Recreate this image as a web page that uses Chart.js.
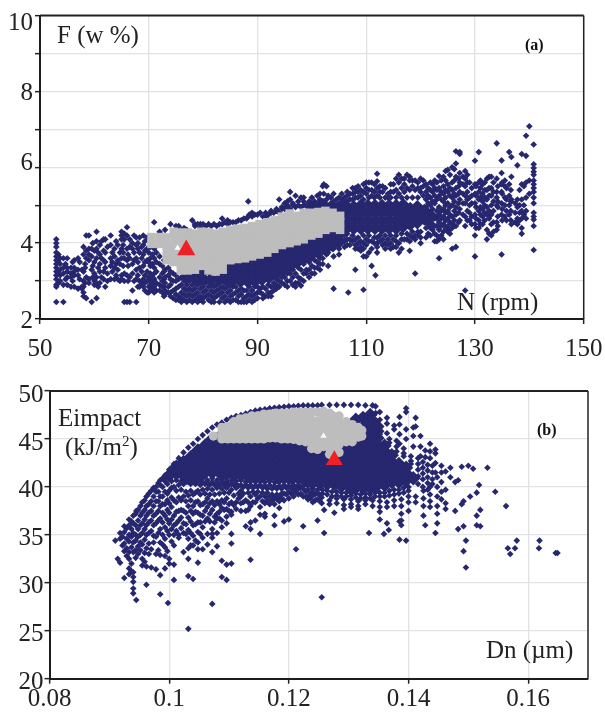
<!DOCTYPE html>
<html><head><meta charset="utf-8">
<script src="https://cdn.jsdelivr.net/npm/chart.js@4"></script>
<style>
html,body{margin:0;padding:0;background:#fff;width:605px;height:715px;overflow:hidden}
canvas{position:absolute;left:0}
.t{position:absolute;font-family:"Liberation Serif",serif;color:#222;font-size:25px;line-height:28px;white-space:nowrap}
.b{font-weight:bold;font-size:16px;line-height:16px;color:#111}
sup{font-size:15px;line-height:0}
</style></head><body>
<canvas id="a" width="605" height="372" style="top:0"></canvas>
<canvas id="b" width="605" height="340" style="top:375px"></canvas>
<div class="t" style="left:57px;top:21px">F (w %)</div>
<div class="t b" style="left:525px;top:37px">(a)</div>
<div class="t" style="left:457px;top:288px">N (rpm)</div>
<div class="t" style="left:58px;top:404px">Eimpact</div>
<div class="t" style="left:65px;top:433px">(kJ/m<sup>2</sup>)</div>
<div class="t b" style="left:537px;top:422px">(b)</div>
<div class="t" style="left:486px;top:636px">Dn (µm)</div>
<script>
// ---- Panel (a): N (rpm) vs F (w %) ----
const xTicksA=[50,70,90,110,130,150];
const yTicksA=[2,3,4,5,6,7,8,9,10];
const yLabelsA=[2,4,6,8,10];
const optimumA=[[76.9,3.82]];
const startA=[[75.3,3.87]];
const darkA=[
[53,[4.1,4.0,3.9,3.75,3.65,3.55,3.45,3.35,3.25,3.15,3.05,2.9,2.85,2.45]],[53.7,[3.6,3.45,3.3,3.15,3.0]],
[54.3,[3.6,3.35,3.2,2.9,2.45]],[55,[3.6,3.35,3.25,3.1,2.9]],[55.7,[3.35,3.2,3.1,2.85]],[56.3,[3.55,3.35,3.25,3.15,2.85]],
[57,[3.6,3.3,3.15,2.8]],[57.7,[3.3,2.85,2.8]],[58,[3.9,3.7,3.25,3.0,2.85,2.7,2.6]],[58.5,[4.2,3.8,3.6,3.1,2.55]],
[59,[4.2,3.85,3.7,3.55,3.05,2.95]],[59.5,[3.85,3.65,3.3,2.45]],[60,[3.8,3.5,3.2,3.0,2.9]],[60.4,[4.3,4.05,3.85,3.6,3.1,2.95,2.55]],
[61,[3.95,3.7,3.45,3.25,2.95]],[61.7,[4.1,3.8,3.55,3.25,3.05]],[62,[4.1,3.75,3.5,3.35,2.85]],[63,[4.2,3.95,3.6,3.4,3.05]],
[63.7,[3.85,3.65,3.35,3.05]],[64.3,[3.95,3.55,3.3,3.05]],[65,[4.3,4.2,4.1,3.85,3.6,3.15,3.05]],[65.5,[4.25,4.1,3.6,3.2,3.0,2.45]],
[66,[4.42,4.2,3.85,3.55,3.15,2.45]],[66.5,[4.1,3.9,3.6,3.1,2.45]],[67,[4.0,3.85,3.45,3.2,2.75]],[67.7,[4.15,3.95,3.6,3.3,3.05,2.45]],
[68,[4.0,3.85,3.5,3.15,2.85]],[69,[4.2,3.95,3.7,3.4,3.05,2.85]],[69.7,[4.15,3.85,3.55,3.25,3.0,2.7]],[70.3,[4.15,3.9,3.6,3.4,3.2,3.0,2.9,2.75]],
[71,[4.55,3.85,3.6,3.35,3.2,3.05,2.85,2.7]],[72.5,[4.2,3.4,3.2,3.0,2.85,2.7]],[73,[4.35,3.3,3.1,2.95,2.75,2.65]],[74,[4.5,3.25,3.05,2.9,2.7,2.6]],
[75,[4.45,3.15,3.0,2.8,2.65,2.5]],[76,[4.35,3.1,2.9,2.7,2.55,2.45]],[77,[4.35,3.1,2.9,2.75,2.6,2.45]],[78,[4.6,3.05,2.9,2.75,2.6,2.45]],
[79,[4.5,3.05,2.9,2.7,2.55,2.45]],[80,[4.5,3.0,2.85,2.7,2.55,2.45]],[81,[4.5,3.0,2.85,2.65,2.5]],[82,[4.5,3.0,2.85,2.7,2.55,2.45]],
[83,[4.5,3.0,2.8,2.65,2.45]],[83.5,[4.65]],[84,[4.55,2.95,2.8,2.6,2.45]],[85,[4.55,2.9,2.75,2.6,2.45]],[86,[4.55,2.85,2.7,2.5]],
[87,[4.6,2.8,2.65,2.45]],[88,[4.65,2.75,2.6,2.45]],[88.3,[5.1,4.7]],[89,[4.8,4.7,2.75,2.6,2.45]],[90,[4.75,2.85,2.7,2.55]],
[91,[4.7,2.85,2.65,2.55]],[92,[4.75,2.9,2.7,2.6]],[93,[4.8,2.95,2.85,2.75]],[94,[5.15,4.8,3.0,2.85]],[95,[5.05,4.9,3.1,2.9]],
[96,[5.35,5.15,4.9,3.2,3.0]],[97,[5.25,4.95,3.2,2.95,2.85]],[98,[5.2,4.95,3.3,3.05,2.88]],[99,[5.0,3.3,3.2]],[100,[5.2,5.0,3.4,3.2]],
[101,[5.25,5.05,3.5,3.35]],[102,[5.5,5.1,3.6,3.45]],[102.7,[5.5,5.15,3.7]],[103,[5.25,3.75,3.4]],[104,[5.3,5.1,3.85,3.65,2.8]],
[105,[5.2,5.05,4.0,3.85,3.7]],[106,[5.2,5.1,4.2,4.05,3.9]],[106.7,[2.7]],[107,[5.3,5.15,4.1,3.95]],[108,[5.45,5.35,5.2,4.1,3.95,3.85,3.3]],
[109,[5.4,5.25,4.05,3.9,3.8]],[109.5,[3.65,2.77]],[110,[5.6,5.45,5.3,4.1,3.95,3.65]],[111,[5.6,5.4,5.25,4.05,3.85,3.4]],[111.7,[3.15]],
[112,[5.83,5.63,5.45,5.25,4.15,4.0,3.9,3.75]],[113,[5.5,5.35,4.1,3.95]],[114,[5.3,5.2,4.1,3.95]],[115,[5.55,5.35,4.1,3.9]],
[116,[5.8,5.6,5.3,4.0,3.75]],[117,[5.7,5.55,5.35,4.1]],[118,[5.75,5.65,5.4,4.2,4.05,3.8]],[119,[5.65,5.4,4.2,4.1,3.2]],
[120,[5.7,5.45,5.35,4.3,4.15,4.0]],[121,[5.55,5.35,5.15,4.95,4.75,4.55,4.4,4.15]],[121.8,[5.6,5.4,5.2,5.0,4.8,4.6,4.4,4.2]],
[122.6,[5.65,5.45,5.25,5.05,4.65,4.45,4.25,4.05]],[123.4,[5.77,5.45,5.25,4.95,4.75,4.55,4.35,4.1,3.6]],[124.2,[5.75,5.5,5.3,5.1,4.9,4.7,4.5,4.3,4.1]],
[125,[5.93,5.55,5.35,5.05,4.85,4.65,4.45,4.3]],[125.8,[6.0,5.6,5.4,5.2,5.0,4.7,4.5,4.4,3.85]],[126.5,[6.42,6.1,5.75,5.45,5.25,4.95,4.75,4.45,3.9]],
[127.2,[6.4,6.35,5.85,5.6,5.35,5.15,4.9,4.6]],[128.2,[5.9,5.7,5.5,5.25,5.05,4.7,4.45,2.75]],[129,[5.6,5.2,5.0,4.8,4.6]],
[130,[6.17,5.55,5.3,5.05,4.75,4.5,4.2,3.65]],[130.7,[6.4,5.6,5.35,5.15,4.85,4.6,4.4]],[131.4,[5.55,5.3,5.1,4.9,4.7,4.5]],
[132.2,[5.7,5.4,5.15,4.95,4.75,4.35,4.1]],[133,[5.75,5.45,5.25,5.0,4.75,4.5,4.2]],[134,[6.63,5.7,5.35,5.2,5,4.55,4.35]],
[134.9,[6.18,5.85,5.55,5.35,5.05,4.75,3.7]],[135.5,[5.65,5.5,5.2,5.0,4.7]],[136.3,[6.4,5.55,5.25,5.0,4.75]],[136.7,[6.27,5.75,5.15,4.5]],
[137.8,[6.05,5.15,4.95,4.65,4.5]],[138.6,[6.35,5.55,5.15,4.85,4.65,4.25,4.4]],[139.4,[6.83,6.3,5.6,5.2,4.85,4.65]],[140,[7.08,5.65,5.3]],
[140.8,[6.6,6.08,5.98,5.88,5.8,5.65,5.55,5.45,5.35,5.2,5.05,4.8,4.7,4.62,4.45,3.82]]
];
const darkExtraA=[
[53.4,[3.7,3.5,3.2,2.95]],[54.7,[3.45,3.05]],[56,[3.5,3.0]],[57.3,[3.5,3.05]],[58.3,[3.45,3.35,2.95]],[59.7,[4.0,3.4,3.1]],[60.7,[3.75,3.35,2.85]],
[61.3,[4.05,3.6,3.1]],[62.4,[3.9,3.2,3.0]],[63.3,[3.75,3.5,3.25]],[64,[4.05,3.45,3.15]],[64.7,[3.75,3.45,3.0]],[65.3,[3.95,3.75,3.4]],[66.2,[3.7,3.4,3.0]],
[67.3,[4.2,3.75,3.55,3.0]],[68.3,[4.15,3.75,3.35,3.0,2.85]],[68.7,[3.9,3.6,3.25,2.95]],[69.3,[4.05,3.8,3.5,3.15,2.95,2.75]],[70,[3.75,3.5,3.1,2.85,2.7]],
[70.7,[3.7,3.45,3.1,2.95,2.8]],[71.4,[3.75,3.5,3.25,2.95,2.75]],[72,[4.3,3.65,3.45,3.1,2.9,2.75]],[72.8,[3.55,3.25,3.05,2.85,2.6]],[73.6,[3.35,3.15,2.85,2.7]],
[74.5,[3.2,3.0,2.75,2.55]],[75.5,[4.45,3.05,2.85,2.6,2.5]],[76.5,[4.4,3.0,2.8,2.65,2.5]],[77.5,[3.0,2.8,2.65,2.5]],[78.5,[4.5,4.45,2.95,2.8,2.65,2.5]],
[79.5,[4.5,4.4,2.95,2.8,2.6,2.5]],[80.5,[4.45,2.95,2.75,2.6]],[81.5,[4.45,2.9,2.75,2.6,2.45]],[82.5,[4.45,2.9,2.75,2.6]],[83.5,[4.5,2.85,2.7,2.55]],
[84.5,[4.6,4.5,2.85,2.7,2.5]],[85.5,[4.55,2.85,2.65,2.5]],[86.5,[4.6,2.75,2.6,2.45]],[87.5,[4.65,2.75,2.55,2.45]],[88.5,[4.75,2.85,2.65,2.5]],[89.5,[4.75,2.85,2.65,2.5]],
[90.5,[4.8,2.8,2.7]],[91.5,[4.8,4.7,2.8,2.6]],[92.5,[4.85,4.8,2.85,2.7,2.6]],[93.5,[4.9,4.85,3.05,2.9,2.8]],[94.5,[4.95,4.9,3.1,2.95]],[95.5,[5.1,5.0,4.95,3.2,3.0,2.85]],
[96.5,[5.05,5.0,3.3,3.1,2.9]],[97.5,[5.1,5.0,3.35,3.1,2.95]],[98.5,[5.2,5.1,5.0,3.45,3.2,3.0]],[99.5,[5.1,5.05,3.5,3.3,3.1]],[100.5,[5.1,5.05,3.55,3.35,3.2]],
[101.5,[5.3,5.15,5.05,3.6,3.45,3.3]],[102.2,[5.55,5.3,5.1]],[103.5,[5.2,5.05]],[104.5,[5.15,5.0]],
[105.5,[5.3,5.15,5.05]],[106.5,[5.35,5.25,5.1,4.25,4.1,3.95]],[107.5,[5.45,5.3,5.15,4.2,4.05]],[108.5,[5.5,5.35,5.2,4.15,4.0,3.85]],[109.5,[5.55,5.35,5.15,4.2,4.0,3.85]],
[110.5,[5.6,5.4,5.2,4.2,4.05,3.75]],[111.5,[5.55,5.35,5.2,4.15,4.0]],[112.5,[5.5,5.35,5.2,4.2,4.05]],[113.5,[5.45,5.2,4.2,4.0,3.85]],[114.5,[5.55,5.35,5.2,4.2,4.0,3.85]],
[115.5,[5.7,5.4,5.2,4.2,4.05,3.9]],[116.5,[5.7,5.45,5.2,4.25,4.1,3.85]],[117.5,[5.8,5.45,5.2,4.25,4.1]],[118.5,[5.65,5.5,5.2,4.3,4.15]],[119.5,[5.6,5.45,5.2,4.3,4.2]],[120.5,[5.65,5.5,5.25]],
[121.4,[5.45,5.25,5.05,4.85,4.65,4.5,4.25]],[122.2,[5.55,5.35,5.1,4.9,4.7,4.5,4.35]],[123,[5.6,5.4,5.15,4.85,4.65,4.45,4.2,4.05]],[123.8,[5.65,5.35,5.15,4.85,4.65,4.45,4.2]],
[124.6,[5.9,5.65,5.4,5.2,5,4.8,4.6,4.4]],[125.4,[5.8,5.45,5.25,4.95,4.75,4.55,4.35,4.25]],[126.2,[5.95,5.65,5.3,5.1,4.85,4.6,4.45]],[127,[5.7,5.5,5.3,5.05,4.8,4.55]],
[127.8,[5.75,5.55,5.3,5.05,4.75]],[128.6,[5.8,5.6,5.35,5.15,4.85,4.6]],[129.4,[5.45,5.25,5.05,4.7,4.5]],[130.2,[5.5,5.25,4.95,4.65,4.4]],[131,[5.65,5.45,5.2,4.95,4.75,4.5]],
[131.8,[5.6,5.4,5.2,5,4.8,4.6]],[132.6,[5.75,5.45,5.25,4.85,4.65,4.25]],[133.4,[5.6,5.35,5.1,4.85,4.55,4.3]],[134.2,[5.5,5.1,4.95,4.7,4.45]],[135,[5.6,5.3,4.9,4.6]],
[135.8,[5.45,5.15,4.85,4.6]],[136.6,[5.4,5.1,4.85,4.6]],[137.4,[5.05,4.8,4.55]],[138.2,[5.4,5.0,4.8,4.6]],[139,[5.5,5,4.75]]
];
const darkMassA=[
[77,[3.1,3.3]],[78.5,[3.1,3.3]],[80,[3.05,3.25]],[81.5,[3.05,3.25]],[83,[3.05,3.25]],[84.3,[3.05,3.25,3.45]],[85.6,[3.05,3.25,3.45]],
[86.9,[3.0,3.2,3.4,3.6]],[88.2,[3.0,3.2,3.4,3.6]],[89.5,[3.0,3.2,3.4,3.6]],[90.8,[3.05,3.25,3.45,3.65]],[92.1,[3.1,3.3,3.5,3.7]],
[93.4,[3.2,3.4,3.6,3.8]],[94.7,[3.3,3.5,3.7,3.9]],[96,[3.4,3.6,3.8,4.0]],[97.3,[3.5,3.7,3.9,4.1]],[98.6,[3.6,3.8,4.0,4.2]],
[99.9,[3.7,3.9,4.1,4.3,4.95]],[101.2,[3.75,3.95,4.15,4.35,4.95]],[102.5,[3.85,4.05,4.25,4.45,4.95]],[103.8,[3.95,4.15,4.35,4.55,4.95]],
[105.1,[4.05,4.25,4.45,4.65,4.85]],[106.4,[4.4,4.6,4.8,4.95]],[107.7,[4.4,4.6,4.8,4.95]],[109,[4.4,4.6,4.8,4.98]],
[110.3,[4.4,4.6,4.8,4.98]],[111.6,[4.4,4.6,4.8,4.98]],[112.9,[4.4,4.6,4.8,4.98]],[114.2,[4.4,4.6,4.8,4.98]],
[115.5,[4.4,4.6,4.8,4.98]],[116.8,[4.45,4.65,4.85,5.0]],[118.1,[4.5,4.7,4.9]],[119.4,[4.55,4.75,4.95]],
[120.7,[4.65,4.85]],[122,[4.7]]
];
const greyA=[
[70.5,[3.98,4.16]],[72,[3.98,4.16]],[73.3,[3.55,3.75,3.95,4.15]],[74.6,[3.5,3.7,3.9,4.1,4.3]],[75.9,[3.28,3.48,3.68,3.88,4.08,4.28]],
[77.2,[3.28,3.48,3.68,3.88,4.08,4.28]],[78.5,[3.3,3.5,3.7,3.9,4.1,4.25]],[79.8,[3.4,3.6,3.8,4.0,4.2,4.3]],[81,[3.28,3.48,3.68,3.88,4.08,4.28]],
[82.3,[3.25,3.45,3.65,3.85,4.05,4.25]],[83.6,[3.3,3.5,3.7,3.9,4.1,4.3]],[85,[3.55,3.75,3.95,4.15,4.35]],[86.3,[3.58,3.78,3.98,4.18,4.38]],
[87.7,[3.6,3.8,4.0,4.2,4.4]],[89,[3.65,3.85,4.05,4.25,4.45]],[90.4,[3.7,3.9,4.1,4.3,4.5]],[91.8,[3.75,3.95,4.15,4.35,4.55]],
[93.1,[3.85,4.05,4.25,4.45,4.6]],[94.5,[3.95,4.15,4.35,4.55,4.7]],[95.9,[4.0,4.2,4.4,4.6,4.78]],[97.2,[4.05,4.25,4.45,4.65,4.72]],
[98.5,[4.1,4.3,4.5,4.65,4.8]],[99.9,[4.2,4.4,4.6,4.8]],[101.2,[4.25,4.45,4.65,4.82]],[102.5,[4.35,4.55,4.7,4.85]],[103.8,[4.4,4.6,4.8]],
[105.2,[4.35,4.55,4.72]]
];

// ---- Panel (b): Dn (µm) vs Eimpact (kJ/m2) ----
const xTicksB=[0.08,0.1,0.12,0.14,0.16];
const yTicksB=[20,25,30,35,40,45,50];
const optimumB=[[0.1276,42.8]];
const startB=[[0.1258,45.3]];
const darkB=[
[.091,[34.4]],[.0914,[32.5]],[.0918,[35.2,34.6,32.1]],[.0925,[35.9,35.3,34.1,33.3,30.5]],[.0933,[36.6,36,35,34.3,33.2,32.5,31.5,30.9]],
[.094,[37,36.2,35.2,34.2,33.2,31.1,30.6,30.1,29.4,28.9]],[.0945,[37.5,28.2]],[.0948,[37.6,36.5,35.6,34.8,33.8,33]],[.0955,[38.4,37.3,36.2,35.2,34,32.5,31.8]],
[.0962,[39,38,37,36,35,33.6,31.7,29.8]],[.097,[39.6,38.5,37.5,36.5,35.4,33.5,31.6]],[.0978,[40,39.5,38.5,37.2,36.2,34.8,33,31.4]],
[.0985,[40.7,40.2,39,38,36.7,35.6,34.2,32.9,30.8,28.8]],[.0993,[41.2,40.6,39.5,38.2,37,35.8,34.6,33.7,32.8,31.5]],[.0998,[27.9]],
[.1,[41.8,41,39.6,38.3,37.3,36.2,35,32.5,32]],[.1008,[42.4,41.6,40,38.6,37,36,35,33.9,31.9,30.3]],[.1016,[43,41.7,40.2,38.9,37.5,36.5,35,34.7]],
[.1024,[43.6,40.3,39,37.5,36.2,35.2,33.2]],[.1032,[44.1,40.5,39.1,38,36.8,35.5,34.6,33.6,32.5,30.7,25.2]],[.104,[44.5,40.5,39.2,38,37.2,36,34.9,33.9,30.4]],
[.1048,[45,39.6,38.5,37.3,36.3,35.3,34.2,33.5,32.1]],[.1056,[45.4,39.7,38.2,37,35.8,34.7,33.5]],[.1064,[45.8,39.8,38.8,37.9,36.7,35.1,34]],
[.1072,[46.2,39.7,38.5,37.6,35.6,35.1,34.7,33.2,27.8]],[.108,[46.5,39.9,38.5,37.2,36.7,35.2,33.8]],[.1088,[46.7,39.8,38.6,37.8,36.5,35.8,32.3,30.6]],
[.1096,[47,39.9,38.8,37.7,36.9,36.2,31.9,30.3]],[.1104,[47.2,39.7,38.4,37.4,37.1,35.1,34.1,32]],[.1112,[47.4,39.9,38.4,37.7]],
[.112,[47.5,39.6,39,38.3,37.5]],[.1128,[47.65,38.6,37.5,35.9]],[.1136,[47.8,39,38,36.3,35.6,32.4]],[.1144,[47.95,39.2,38.4,36.5]],
[.1152,[48.05,39,37.9,37.1,35.1]],[.116,[48.1,39,38.3,37.2,36.9]],[.1168,[48.2,39,38.2]],[.1176,[48.25,38.9,38.2,37,36]],[.1184,[48.3,39,38.5,37.8]],
[.1192,[48.35,39.3,38.6,36.4]],[.12,[48.4,39.5,38.8,36.6]],[.1208,[48.4,39.7,39]],[.1212,[33.5]],[.1216,[48.45,39.8,39.2]],[.1224,[48.5,39.8,39,35.9]],
[.1232,[48.5,39,38.7]],[.124,[48.5,39.1,38.4]],[.1248,[48.5,38.7,36.5]],[.1255,[48.55,38.9,38.3,28.5]],[.1259,[37.6,35.2]],[.1268,[48.55,38.6,38.2]],[.1276,[37.3]],
[.128,[48.55,38.8,38.3]],[.1292,[48.55,38.7,38.1,37.7]],[.1304,[48.55,38.7,38.2,37.9]],[.1316,[48.55,38.5,38,37.7]],[.1328,[48.5,38.6,38.2]],[.1334,[35.2]],
[.134,[48.5,38.6,38]],[.1345,[48.4,47.7,47]],[.1352,[47.8,47,46.2,45.5,38.5,37.9,37.4,36.6]],[.1359,[35.1]],[.1364,[47.2,46.6,45.6,38.4,37.9,36.2]],[.1367,[35.5]],
[.1376,[46.4,46,38.6,38]],[.1385,[47.3,46.5,45.5,44.5,36.4,34.5]],[.1388,[38.7,38,37.2,36.5,36]],[.1396,[48.2,47.8,46,45,34.4]],[.14,[39,38.4,37.5]],
[.1408,[46.2,45.3,44.2]],[.1412,[47.2,46.3,39,38.4]],[.142,[45.3,44.2,43.2]],[.1425,[39.6,38.8,38,37]],[.1428,[43.8,43.1,36]],[.1436,[44.5,43.7,43,40,39.2,38.5,37.9]],
[.1445,[43.9,43.5,42.5,41.5,35.2]],[.1448,[41,40,39,38,37.2,36.2]],[.1455,[42.2,41.5,40.5,39.5,38.7]],[.1462,[41.6,39.7,38.3,37.7]],[.147,[42,41]],
[.1478,[40.5,37.5]],[.1483,[40.7,35.6]],[.1489,[42.1,38.2]],[.1492,[38.5,35.9,33.3]],[.1496,[34.4,31.6]],[.15,[42.2]],[.1503,[39]],[.1508,[41.9]],[.1514,[39.4,37,36]],
[.1518,[40.2]],[.152,[37.6,35.9]],[.1532,[42]],[.1545,[39.5]],[.1563,[38]],[.1566,[33.6]],[.157,[33]],[.1578,[33.6]],[.1581,[34.4]],[.1618,[33.6]],[.1619,[34.4]],[.1646,[33.1]],[.1649,[33.1]]
];
const darkExtraB=[
[.0922,[34.8,33.9]],[.0929,[35.7,34.6,33.6,32.8]],[.0937,[36.4,35.6,34.8,33.7,32,31.2]],[.0944,[37.2,36,35,34.4,33.4,32.6]],[.0952,[38,37,36,35,34.2,33.4]],
[.0959,[38.6,37.6,36.6,35.6,34.5,33.1,32.2]],[.0966,[39.3,38.2,37.3,36.3,35.2,34.1,33]],[.0974,[39.9,39,38,37,36,34.9,34.2]],[.0982,[40.4,39.5,38.5,37.5,36.5,35.2,33.4]],
[.0989,[40.9,40,39,38.2,37.3,36.3,35,34]],[.0997,[41.3,40.3,39.3,38.6,37.6,36.6,35.4,33.3]],[.1004,[41.8,40.6,39.9,38.9,37.9,36.6,35.6,34.3]],[.1012,[40.7,39.6,38.4,37.4,36.2,35.4]],
[.102,[40.6,39.7,38.6,37.6,36.8,35.7]],[.1028,[40.5,39.5,38.5,37.3,36.1,35.1]],[.1036,[40.3,39.6,38.6,37.5,36.4,35.2,33.9]],[.1044,[40.3,39.4,38.4,37.4,36.1,34.4]],
[.1052,[40.2,39.2,38.1,37.1,36.3,35.1]],[.106,[40.3,39.3,38.4,37.5,36.4]],[.1068,[40.2,39.2,38.3,37.2,36.4]],[.1076,[40.2,39.2,38.1,36.9,36.3]],[.1084,[40.2,39.3,38.2,37.4,36.7]],
[.1092,[40.2,39.4,38.4,37.6]],[.11,[40.2,39.4,38.2,37.5]],[.1108,[40.2,39.1,38.1]],[.1116,[40.1,39.3,38.8]],[.1124,[40,39.3,38.4]],[.1132,[39.9,39.4,38.4,37.6]],[.114,[39.9,39.5,38.4]],
[.1148,[40,39.5,38.8]],[.1156,[39.9,39.4,38.5]],[.1164,[39.8,39.4,38.6]],[.1172,[39.8,39.2,38.6]],[.118,[39.8,39.2,38.7]],[.1188,[39.8,39.3,38.8]],[.1196,[39.9,39.2]],[.1204,[39.9,39.3]],
[.1212,[39.9,39.4]],[.122,[39.9,39.3]],[.1228,[39.5,39]],[.1236,[39.3,38.8]],[.1244,[39.2,38.6]],[.1252,[39.1,38.5]],
[.1368,[45,44.6]],[.138,[44.8,44.2,43.7]],[.1392,[44,43.5,43.2]],[.1404,[43.2,42.7,42.4]],[.1416,[43,42.4,41.8,41.1,40.3]],[.1424,[42.6,42,41.4,40.8,40]],[.1432,[42.3,41.7,41,40.4,39.7]],[.144,[42.2,41.5,40.8,40.3]]
];
const darkLowerEdgeB=[
[.1056,[40.9,40.5]],[.1064,[40.7,40.4]],[.1072,[40.9,40.5]],[.108,[40.7,40.4]],[.1088,[40.8,40.5]],[.1096,[40.6,40.4]],[.1104,[40.7,40.3]],[.1112,[40.6,40.3]],
[.112,[40.7,40.2]],[.1128,[40.5,40.2]],[.1136,[40.6,40.2]],[.1144,[40.5,40.1]],[.1152,[40.6,40.2]],[.116,[40.5,40.1]],[.1168,[40.6,40.2]],[.1176,[40.5,40.1]],
[.1184,[40.5,40.1]],[.1192,[40.6,40.2]],[.12,[40.5,40.1]],[.1208,[40.6,40.2]],[.1216,[40.5,40.2]],[.1224,[40.4,40.1]],[.1232,[40.1,39.7]],[.124,[39.8,39.5]],
[.1248,[39.7,39.4]],[.1256,[39.7,39.3]],[.1264,[39.6,39.2]],[.1272,[39.5,39]],[.128,[39.5,39.1]],[.1288,[39.4,39]],[.1296,[39.4,39]],[.1304,[39.4,39.1]],[.1312,[39.3,38.9]],[.132,[39.2,38.8]],
[.1328,[39.3,38.9]],[.1336,[39.2,38.8]],[.1344,[39.4,39]],[.1352,[39.4,39]],[.136,[39.4,39]],[.1368,[39.6,39.1]],[.1376,[39.7,39.2]],[.1384,[39.7,39.3]],[.1392,[39.9,39.4]],[.14,[40,39.6]]
];
const darkMassB=[
[.1,[41.2]],[.1012,[41.4,42.1]],[.1024,[41.2,41.9,42.6]],[.1036,[41,41.7,42.4,43.1]],[.1048,[41,41.7,42.4,43.1,43.8]],[.106,[41.5,42.2,42.9,43.6,44.3]],
[.1072,[41.5,42.2,42.9,43.6,44.3,45]],[.1084,[41.5,42.2,42.9,43.6,44.3,45.2]],[.1096,[41.3,42,42.7,43.4,44.1,44.8]],[.1108,[41.3,42,42.7,43.4,44.1,44.8]],
[.112,[41.2,41.9,42.6,43.3,44,44.7]],[.1132,[41.1,41.8,42.5,43.2,43.9,44.6]],[.1144,[41.1,41.8,42.5,43.2,43.9,44.6]],[.1156,[41.1,41.8,42.5,43.2,43.9,44.6]],
[.1168,[41.1,41.8,42.5,43.2,43.9,44.6]],[.118,[41,41.7,42.4,43.1,43.8,44.5]],[.1192,[41,41.7,42.4,43.1,43.8,44.5]],[.1204,[41,41.7,42.4,43.1,43.8,44.5]],
[.1216,[41,41.7,42.4,43.1,43.8,44.5]],[.1228,[40.7,41.4,42.1,42.8,43.5,44.2]],[.124,[40.4,41.1,41.8,42.5,43.2,43.9]],[.1252,[40.4,41.1,41.8,42.5,43.2,43.9]],
[.1264,[40.3,41,41.7,42.4,43.1,43.8]],[.1276,[40.3,41,41.7,42.4,43.1,43.8]],[.1288,[40.1,40.8,41.5,42.2,42.9,43.6,44.3]],[.13,[40.1,40.8,41.5,42.2,42.9,43.6,44.3]],
[.1312,[39.9,40.6,41.3,42,42.7,43.4,44.1,44.8,47]],[.1324,[39.9,40.6,41.3,42,42.7,43.4,44.1,44.8,45.5,46.2,47.2]],[.1336,[39.9,40.6,41.3,42,42.7,43.4,44.1,44.8,45.5,46.2,46.9,47.5]],
[.1348,[40.2,40.9,41.6,42.3,43,43.7,44.4,45.1,45.8,46.3]],[.136,[40.2,40.9,41.6,42.3,43,43.7,44.3]],[.1372,[40.5,41.2,41.9,42.6,43.3]],[.1384,[40.5,41.2,41.9,42.4]],
[.1396,[40.7,41.4,42]],[.1408,[40.9]]
];
const greyB=[
[.1074,[45.3]],[.1088,[45,45.6,46.2]],[.1098,[45,45.6,46.3]],[.1108,[45,45.6,46.2,46.8]],[.1118,[45,45.6,46.2,46.8,47.1]],[.1128,[45,45.6,46.2,46.8,47.2]],
[.1138,[45,45.6,46.2,46.8,47.4]],[.1148,[45,45.6,46.2,46.8,47.4]],[.1158,[45,45.6,46.2,46.8,47.4,47.6]],[.1168,[45.1,45.7,46.3,46.9,47.4,47.6]],[.1178,[45.1,45.7,46.3,46.9,47.4,47.7]],
[.1188,[45,45.6,46.2,46.8,47.3,47.7]],[.1198,[45,45.6,46.2,46.8,47.3,47.7]],[.1208,[44.95,45.6,46.2,46.8,47.4,47.8]],[.1218,[44.8,45.4,46,46.6,47.2,47.8]],[.1228,[44.7,45.3,45.9,46.5,47.1,47.8]],
[.1238,[44,44.6,45.2,45.8,46.4,47,47.8]],[.1248,[43.9,44.5,45.1,45.7,46.3,46.9,47.8]],[.1258,[44.2,44.8,45.4,46,46.6,47.2,47.9]],[.1268,[43.4,44,44.6,45.2,45.8,46.4,47,47.7]],
[.1274,[43.1,43.8,44.4,45,45.6,46.2,46.8,47.4]],[.1284,[43.6,44.4,45,45.6,46.2,46.8,47.4]],[.1296,[44.7,45.3,45.9,46.5,46.8]],[.1306,[44.7,45.3,45.9,46.5]],[.1316,[45.2,45.8,46.2]],[.1322,[45.3,45.9]]
];

const darkColour='#26276f', greyColour='#bdbdbd', redColour='#ee2126';
const toPoints=cols=>cols.flatMap(([x,ys])=>ys.map(y=>({x,y})));
const toPairs=rows=>rows.map(([x,y])=>({x,y}));
const serif='"Liberation Serif", serif';

const frame={id:'frame',afterDatasetsDraw(c){
  const {left,right,top,bottom}=c.chartArea,g=c.ctx;
  g.save();g.strokeStyle='#222';
  g.lineWidth=2;g.beginPath();g.moveTo(left,top);g.lineTo(right,top);g.stroke();
  g.lineWidth=1.5;g.beginPath();g.moveTo(right,top);g.lineTo(right,bottom);g.stroke();
  g.restore();
}};

function panel(id,cfg){
  const ds=(data,style,r,colour,order)=>({data,pointStyle:style,pointRadius:r,pointHoverRadius:r,pointBackgroundColor:colour,pointBorderWidth:0,order,showLine:false,clip:false});
  new Chart(document.getElementById(id),{type:'scatter',plugins:[frame],
    data:{datasets:[
      ds(toPairs(cfg.optimum),'triangle',cfg.redR,redColour,0),
      ds(toPairs(cfg.start),'triangle',3.6,'#ffffff',1),
      ds(toPoints(cfg.grey),cfg.greyStyle,cfg.greyR,greyColour,2),
      ds(toPoints(cfg.dark),'rectRot',3.3,darkColour,3),
      ds(toPoints(cfg.extra),'rectRot',3.3,darkColour,4),
      ds(toPoints(cfg.mass),'rectRot',7.2,darkColour,5)
    ]},
    options:{responsive:false,animation:false,devicePixelRatio:1,
      layout:{padding:cfg.padding},
      plugins:{legend:{display:false},tooltip:{enabled:false}},
      scales:{
        x:{type:'linear',min:cfg.xMin,max:cfg.xMax,
          afterFit:s=>{s.height=cfg.xHeight},
          afterBuildTicks:s=>{s.ticks=cfg.xTicks.map(value=>({value}))},
          grid:{color:'#e2e2e2',lineWidth:1.3,tickLength:5,tickColor:'#222',tickWidth:1.5},
          border:{color:'#1c1c1c',width:2},
          ticks:{color:'#222',font:{family:serif,size:25,lineHeight:cfg.xLine},padding:cfg.xPad,maxRotation:0,autoSkip:false,
            callback:v=>String(v)}},
        y:{type:'linear',min:cfg.yMin,max:cfg.yMax,
          afterFit:s=>{s.width=cfg.yWidth},
          afterBuildTicks:s=>{s.ticks=cfg.yTicks.map(value=>({value}))},
          grid:{color:'#e2e2e2',lineWidth:1.3,tickLength:5,tickColor:'#222',tickWidth:1.5},
          border:{color:'#1c1c1c',width:2},
          ticks:{color:'#222',padding:cfg.yPad,labelOffset:cfg.yShift,autoSkip:false,
            font:ctx=>({family:serif,size:25,lineHeight:cfg.nudge&&ctx.tick&&cfg.nudge[ctx.tick.value]?0.5:1.2}),
            callback:v=>{
              if(!cfg.yLabels.includes(v))return '';
              const n=cfg.nudge&&cfg.nudge[v];
              return n==='down'?['',String(v)]:n==='up'?[String(v),'']:String(v);
            }}}
      }
    }});
}
panel('a',{optimum:optimumA,start:startA,grey:greyA,dark:darkA,extra:darkExtraA,mass:darkMassA,greyStyle:'rect',greyR:6,redR:10.5,
  xMin:50,xMax:150,yMin:2,yMax:10,xTicks:xTicksA,yTicks:yTicksA,yLabels:yLabelsA,nudge:{10:'down',6:'up'},
  padding:{top:15.5,right:21.3,left:0,bottom:0},xHeight:53,yWidth:40,xPad:2,xLine:1.84,yPad:2,yShift:2});
panel('b',{optimum:optimumB,start:startB,grey:greyB,dark:darkB,extra:[...darkExtraB,...darkLowerEdgeB],mass:darkMassB,greyStyle:'circle',greyR:4.6,redR:9.8,
  xMin:0.08,xMax:0.17,yMin:20,yMax:50,xTicks:xTicksB,yTicks:yTicksB,yLabels:yTicksB,
  padding:{top:15.7,right:17,left:0,bottom:0},xHeight:36.3,yWidth:49.5,xPad:1,xLine:1.2,yPad:1,yShift:4});
</script>
</body></html>
